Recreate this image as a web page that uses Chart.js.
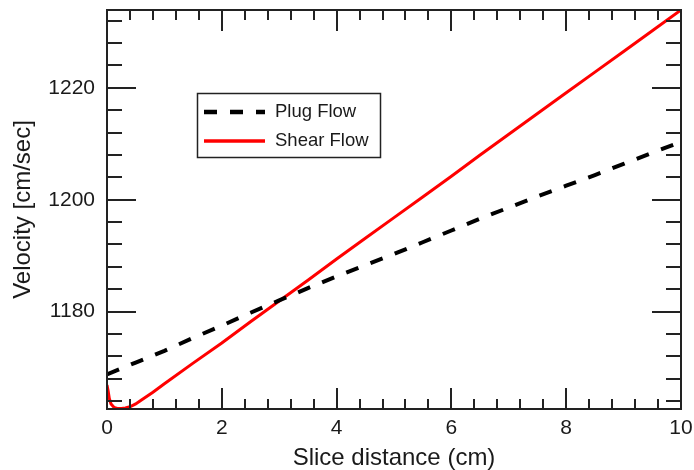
<!DOCTYPE html>
<html>
<head>
<meta charset="utf-8">
<title>Velocity vs slice distance</title>
<script src="https://cdn.jsdelivr.net/npm/chart.js@4.4.0/dist/chart.umd.min.js"></script>
<style>
  body { margin: 0; background: #fff; }
  #wrap { width: 694px; height: 470px; }
</style>
</head>
<body>
<div id="wrap"><canvas id="velocityChart" width="694" height="470"></canvas></div>
<script>
// values
const plugX = [0, 0.5, 1, 1.5, 2, 2.5, 3, 3.5, 4, 4.5, 5, 5.5, 6, 6.5, 7, 7.5, 8, 8.5, 9, 9.5, 10];
const plugVelocity = [1168.8, 1170.9, 1173.0, 1175.3, 1177.5, 1179.8, 1182.0, 1184.2, 1186.3, 1188.3, 1190.3,
    1192.4, 1194.5, 1196.6, 1198.6, 1200.6, 1202.5, 1204.4, 1206.4, 1208.4, 1210.3];

const shearX = [0, 0.02, 0.04, 0.07, 0.12, 0.18, 0.25, 0.32, 0.4, 0.5, 0.6, 0.8, 1, 1.5, 2, 2.5, 3, 3.5,
    4, 4.5, 5, 5.5, 6, 6.5, 7, 7.5, 8, 8.5, 9, 9.5, 10];
const shearVelocity = [1166.9, 1165.8, 1164.5, 1163.5, 1162.9, 1162.7, 1162.7, 1162.8, 1163.0, 1163.5, 1164.2,
    1165.6, 1167.1, 1170.8, 1174.4, 1178.2, 1181.9, 1185.6, 1189.4, 1193.1, 1196.8, 1200.5, 1204.2,
    1208.0, 1211.7, 1215.4, 1219.1, 1222.8, 1226.5, 1230.2, 1233.9];

const seriesNames = ['Plug Flow', 'Shear Flow'];
const xTicks = [0, 2, 4, 6, 8, 10];
const yTicks = [1180, 1200, 1220];

const FONT = "'Liberation Sans', Arial, Helvetica, sans-serif";
const INK = '#1a1a1a';

function toPoints(xs, ys) {
    return xs.map((x, i) => ({ x: x, y: ys[i] }));
}

// IDL style box: frame, inward ticks on all four sides, legend inside the plot
const boxPlugin = {
    id: 'idlBox',
    afterDatasetsDraw(chart) {
        const ctx = chart.ctx;
        const area = chart.chartArea;
        const xs = chart.scales.x;
        const ys = chart.scales.y;

        ctx.save();
        ctx.strokeStyle = '#222';
        ctx.lineWidth = 2;
        ctx.strokeRect(area.left, area.top, area.right - area.left, area.bottom - area.top);

        ctx.beginPath();
        for (let i = 0; i <= 25; i++) {
            const v = xs.min + i * 0.4;
            if (v > xs.max + 1e-6) break;
            const major = xTicks.some(t => Math.abs(t - v) < 1e-6);
            const len = major ? 21 : 10;
            const px = Math.round(xs.getPixelForValue(v));
            ctx.moveTo(px, area.bottom);
            ctx.lineTo(px, area.bottom - len);
            ctx.moveTo(px, area.top);
            ctx.lineTo(px, area.top + len);
        }
        for (let v = Math.ceil(ys.min / 4) * 4; v <= ys.max; v += 4) {
            const major = yTicks.includes(v);
            const len = major ? 29 : 15;
            const py = Math.round(ys.getPixelForValue(v));
            ctx.moveTo(area.left, py);
            ctx.lineTo(area.left + len, py);
            ctx.moveTo(area.right, py);
            ctx.lineTo(area.right - len, py);
        }
        ctx.stroke();

        // legend box
        ctx.lineWidth = 1.5;
        ctx.strokeRect(197.5, 93.5, 183, 64);
        const rows = [112, 141];
        chart.data.datasets.forEach((ds, i) => {
            ctx.beginPath();
            ctx.strokeStyle = ds.borderColor;
            ctx.lineWidth = ds.borderWidth + 0.5;
            ctx.setLineDash(ds.borderDash || []);
            ctx.moveTo(204, rows[i]);
            ctx.lineTo(265, rows[i]);
            ctx.stroke();
            ctx.setLineDash([]);
            ctx.fillStyle = INK;
            ctx.font = '18.5px ' + FONT;
            ctx.textAlign = 'left';
            ctx.textBaseline = 'middle';
            ctx.fillText(ds.label, 275, rows[i]);
        });
        ctx.restore();
    }
};

const ctx = document.getElementById('velocityChart').getContext('2d');
new Chart(ctx, {
    type: 'line',
    data: {
        datasets: [{
            label: seriesNames[0],
            data: toPoints(plugX, plugVelocity),
            borderColor: '#000',
            borderWidth: 4,
            borderDash: [13, 13],
            borderCapStyle: 'butt',
            pointRadius: 0,
            tension: 0,
            fill: false
        },
        {
            label: seriesNames[1],
            data: toPoints(shearX, shearVelocity),
            borderColor: '#ff0000',
            borderWidth: 3,
            pointRadius: 0,
            tension: 0,
            fill: false
        }]
    },
    options: {
        responsive: false,
        animation: false,
        events: [],
        layout: { padding: { top: 10, right: 13, bottom: 0, left: 0 } },
        plugins: {
            legend: { display: false },
            tooltip: { enabled: false }
        },
        scales: {
            x: {
                type: 'linear',
                min: 0,
                max: 10,
                grid: { display: false, drawTicks: false },
                border: { display: false },
                afterBuildTicks: (scale) => { scale.ticks = xTicks.map(v => ({ value: v })); },
                afterFit: (scale) => {
                    scale.height = 61;
                    scale.paddingLeft = 0;
                    scale.paddingRight = 0;
                },
                ticks: {
                    color: INK,
                    font: { family: FONT, size: 21 },
                    padding: 7,
                    maxRotation: 0,
                    autoSkip: false,
                    callback: (v) => String(v)
                },
                title: {
                    display: true,
                    text: 'Slice distance (cm)',
                    color: INK,
                    font: { family: FONT, size: 24, lineHeight: 1 },
                    padding: { top: 0, bottom: 0 }
                }
            },
            y: {
                type: 'linear',
                min: 1162.6,
                max: 1233.9,
                grid: { display: false, drawTicks: false },
                border: { display: false },
                afterBuildTicks: (scale) => { scale.ticks = yTicks.map(v => ({ value: v })); },
                afterFit: (scale) => {
                    scale.width = 107;
                    scale.paddingTop = 0;
                    scale.paddingBottom = 0;
                },
                ticks: {
                    color: INK,
                    font: { family: FONT, size: 21 },
                    padding: 12,
                    autoSkip: false,
                    callback: (v) => String(v)
                },
                title: {
                    display: true,
                    text: 'Velocity [cm/sec]',
                    color: INK,
                    font: { family: FONT, size: 24, lineHeight: 1 },
                    padding: { top: 11, bottom: 0 }
                }
            }
        }
    },
    plugins: [boxPlugin]
});
</script>
</body>
</html>
